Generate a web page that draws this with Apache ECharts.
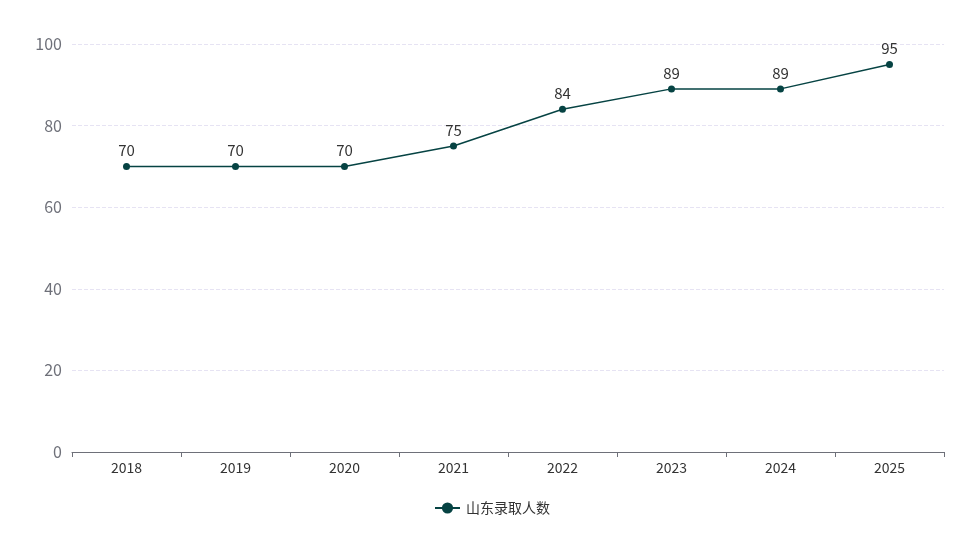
<!DOCTYPE html>
<html><head><meta charset="utf-8">
<script src="https://cdn.jsdelivr.net/npm/echarts@6/dist/echarts.min.js"></script>
<style>html,body{margin:0;padding:0;background:#fff}#c{width:971px;height:533px}</style>
</head><body><div id="c"></div>
<script>
const years = ['2018','2019','2020','2021','2022','2023','2024','2025'];
const admitted = [70,70,70,75,84,89,89,95];
const seriesName = '山东录取人数';
const chart = echarts.init(document.getElementById('c'));
const font = '"Noto Sans CJK SC", "Noto Sans", sans-serif';
chart.setOption({
  textStyle:{fontFamily:font},
  grid:{left:72,right:27,top:44,bottom:81},
  legend:{bottom:13,left:429,itemWidth:25,itemHeight:14,itemGap:10,textStyle:{fontSize:14,color:'#333',fontFamily:font,padding:[0,0,0,1]},data:[seriesName]},
  xAxis:{type:'category',data:years,boundaryGap:true,
    axisLine:{lineStyle:{color:'#6e7079'}},axisTick:{show:true,length:5,lineStyle:{color:'#6e7079'}},
    axisLabel:{fontSize:14,color:'#333',margin:9,fontFamily:font}},
  yAxis:{type:'value',min:0,max:100,interval:20,
    axisLabel:{fontSize:16,color:'#6e7079',margin:10,fontFamily:font},
    splitLine:{lineStyle:{type:'dashed',color:'#e6e3f3'}}},
  series:[{name:seriesName,type:'line',data:admitted,symbol:'circle',symbolSize:7,
    lineStyle:{color:'#064343',width:1.5},itemStyle:{color:'#064343'},
    label:{show:true,position:'top',distance:5,fontSize:15,color:'#333',fontFamily:font}}]
});
</script></body></html>
